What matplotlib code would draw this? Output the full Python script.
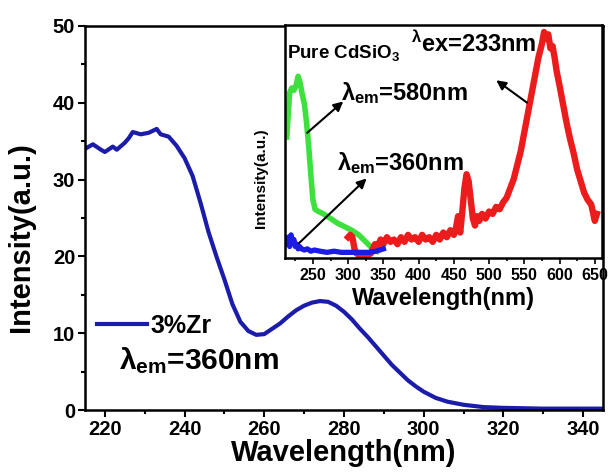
import matplotlib
matplotlib.use('Agg')
import matplotlib.pyplot as plt
from matplotlib.ticker import MultipleLocator

plt.rcParams['font.family'] = ['Liberation Sans', 'DejaVu Sans']
plt.rcParams['font.weight'] = 'bold'
plt.rcParams['mathtext.fontset'] = 'custom'
plt.rcParams['mathtext.rm'] = 'Liberation Sans:bold'
plt.rcParams['mathtext.bf'] = 'Liberation Sans:bold'
plt.rcParams['mathtext.it'] = 'Liberation Sans:bold'

# main spectrum (3% Zr, em = 360 nm)
main_wl = [215, 217, 219, 220, 222, 223, 225, 226, 227, 229, 231, 233, 234, 236, 238,
           240, 242, 244, 246, 248, 250, 252, 254, 256, 258, 260, 262, 264, 266, 268,
           270, 272, 274, 276, 278, 280, 282, 284, 286, 288, 290, 292, 294, 296, 298,
           300, 303, 306, 310, 315, 320, 325, 330, 335, 340, 345]
main_int = [34.0, 34.6, 33.9, 33.6, 34.3, 33.9, 34.8, 35.4, 36.2, 35.9, 36.1, 36.6, 35.9, 35.6, 34.4,
            32.8, 30.5, 27.0, 23.2, 20.0, 17.0, 13.8, 11.5, 10.3, 9.8, 9.9, 10.6, 11.3, 12.2, 13.0,
            13.6, 14.0, 14.2, 14.1, 13.6, 12.8, 11.8, 10.6, 9.5, 8.3, 7.1, 5.9, 4.9, 3.9, 3.1,
            2.4, 1.6, 1.1, 0.7, 0.4, 0.3, 0.25, 0.2, 0.2, 0.2, 0.2]

# inset: pure CdSiO3
green_wl = [213, 215, 217, 220, 223, 226, 229, 232, 235, 238, 241, 244, 247, 250, 253,
            258, 265, 275, 285, 295, 305, 315, 325, 335, 341]
green_int = [52, 62, 71, 73, 72, 74, 78, 75, 70, 66, 58, 48, 36, 25, 21,
             20, 19, 17, 15, 13.5, 12, 10, 7, 4, 3]

blue_wl = [213, 215, 217, 219, 221, 223, 225, 227, 229, 231, 234, 238, 242, 247, 252,
           260, 270, 280, 290, 300, 310, 320, 330, 340, 350]
blue_int = [6, 9, 5, 10, 7, 8, 5, 6, 4, 5, 4, 3.5, 4, 3, 3.5,
            3, 2.5, 3, 2.5, 2.5, 2.5, 2.5, 2.5, 3, 4]

red_wl = [300, 303, 306, 309, 312, 318, 325, 332, 338, 342, 346, 350, 355, 360, 365,
          370, 375, 380, 385, 390, 395, 400, 405, 410, 415, 420, 425, 430, 435, 440,
          445, 450, 453, 456, 459, 462, 465, 468, 471, 474, 477, 480, 483, 486, 490,
          495, 500, 505, 510, 515, 520, 525, 530, 535, 540, 545, 550, 555, 560, 565,
          570, 575, 578, 581, 584, 587, 590, 593, 596, 600, 605, 610, 615, 620, 625,
          630, 635, 640, 645, 650, 653]
red_int = [9, 10, 9, 4, 2, 1, 1, 2, 6, 5, 8, 6, 9, 7, 8,
           6, 9, 7, 10, 8, 9, 7, 10, 8, 9, 7, 10, 8, 11, 9,
           12, 10, 13, 18, 11, 20, 30, 36, 33, 25, 17, 14, 18, 16, 19,
           17, 20, 19, 22, 21, 24, 26, 30, 34, 40, 46, 54, 62, 70, 78,
           86, 92, 97, 94, 96, 90, 91, 86, 80, 74, 66, 58, 51, 45, 38,
           33, 28, 25, 23, 16, 19]

fig = plt.figure(figsize=(6.11, 4.72), dpi=100)
ax = fig.add_axes([0.139, 0.131, 0.848, 0.814])

ax.plot(main_wl, main_int, color='#1c1caa', lw=3.0, label='3%Zr')
ax.set_xlim(215, 345)
ax.set_ylim(0, 50)
ax.xaxis.set_major_locator(MultipleLocator(20))
ax.xaxis.set_minor_locator(MultipleLocator(10))
ax.yaxis.set_major_locator(MultipleLocator(10))
ax.yaxis.set_minor_locator(MultipleLocator(5))
ax.tick_params(which='both', direction='out', width=1.5, labelsize=14.5, top=False, right=False, pad=2)
ax.tick_params(which='major', length=5)
ax.tick_params(which='minor', length=3)
for s in ax.spines.values():
    s.set_linewidth(1.8)
ax.set_xlabel('Wavelength(nm)', fontsize=21, fontweight='bold', labelpad=0)
ax.set_ylabel('Intensity(a.u.)', fontsize=21, fontweight='bold')
ax.yaxis.set_label_coords(-0.097, 0.45)

ax.legend(loc='lower left', bbox_to_anchor=(-0.02, 0.13), frameon=False,
          prop={'size': 18, 'weight': 'bold'}, handlelength=2.0, handletextpad=0.15)
ax.text(223.5, 6.5, r'$\lambda_{\mathrm{em}}$=360nm', fontsize=21.5, fontweight='bold', va='center')

# inset
ins = fig.add_axes([0.466, 0.453, 0.519, 0.494])
ins.plot(green_wl, green_int, color='#3ee03e', lw=4.0)
ins.plot(red_wl, red_int, color='#ec1c1c', lw=4.6)
ins.plot(blue_wl, blue_int, color='#1c1ce6', lw=3.8)
ins.set_xlim(210, 660)
ins.set_ylim(0, 100)
ins.set_yticks([])
ins.xaxis.set_major_locator(MultipleLocator(50))
ins.xaxis.set_minor_locator(MultipleLocator(25))
ins.set_xticks([250, 300, 350, 400, 450, 500, 550, 600, 650])
ins.tick_params(which='both', direction='out', width=1.2, labelsize=11.5, top=False, right=False, pad=3)
ins.tick_params(which='major', length=4)
ins.tick_params(which='minor', length=2.5)
for s in ins.spines.values():
    s.set_linewidth(1.8)
ins.set_xlabel('Wavelength(nm)', fontsize=17, fontweight='bold', labelpad=3)
ins.set_ylabel('Intensity(a.u.)', fontsize=11, fontweight='bold')
ins.yaxis.set_label_coords(-0.054, 0.343)

ins.text(213, 88, r'Pure CdSiO$_3$', fontsize=13.5, fontweight='bold', va='center')
ins.text(389, 92, r'$^{\lambda}$ex=233nm', fontsize=17, fontweight='bold', va='center')
ins.text(290, 71, r'$\lambda_{\mathrm{em}}$=580nm', fontsize=17, fontweight='bold', va='center')
ins.text(284, 41, r'$\lambda_{\mathrm{em}}$=360nm', fontsize=17, fontweight='bold', va='center')

arrow = dict(arrowstyle='-|>', color='black', lw=1.5, mutation_scale=14)
ins.annotate('', xy=(507, 77), xytext=(557, 66), arrowprops=arrow)
ins.annotate('', xy=(296, 68), xytext=(239, 53), arrowprops=arrow)
ins.annotate('', xy=(329, 35), xytext=(227, 5.5), arrowprops=arrow)

fig.savefig('out.png', dpi=100)
